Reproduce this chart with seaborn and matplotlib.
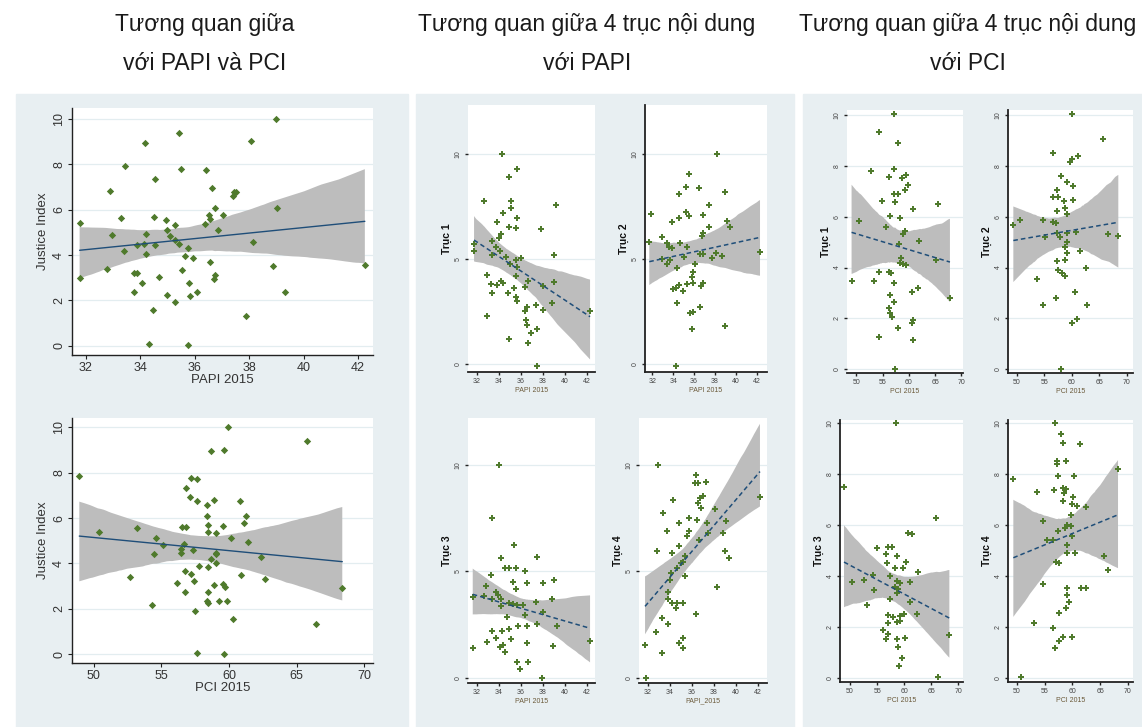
import pandas as pd
import matplotlib.pyplot as plt
import seaborn as sns
from matplotlib.patches import Rectangle

# ---- left panel: Justice Index vs PAPI / PCI ----
papi = [31.77, 31.77, 32.87, 32.77, 32.97, 33.30, 33.45, 33.40, 33.78, 33.88,
        33.78, 33.88, 34.07, 34.12, 34.21, 34.21, 34.16, 34.32, 34.45, 34.50,
        34.55, 34.55, 34.70, 34.93, 34.98, 34.98, 35.08, 35.26, 35.26, 35.26,
        35.41, 35.41, 35.50, 35.54, 35.65, 35.74, 35.74, 35.79, 35.84, 35.93,
        36.08, 36.36, 36.41, 36.51, 36.55, 36.55, 36.64, 36.69, 36.74, 36.74,
        36.84, 37.04, 37.40, 37.45, 37.50, 37.89, 38.08, 38.13, 38.88, 38.97,
        39.02, 39.30, 42.25]
justice_papi = [5.40, 3.00, 6.82, 3.40, 4.88, 5.63, 7.91, 4.19, 3.19, 3.22,
                2.37, 4.43, 2.76, 4.49, 4.94, 4.03, 8.94, 0.07, 1.56, 5.69,
                7.34, 4.43, 3.04, 5.56, 5.12, 2.25, 4.82, 1.91, 5.34, 4.65,
                9.40, 4.49, 7.79, 3.34, 3.96, 4.31, 0.01, 2.76, 2.19, 3.85,
                2.37, 5.38, 7.74, 5.79, 5.60, 3.68, 6.94, 2.94, 3.10, 6.07,
                5.12, 5.79, 6.60, 6.78, 6.78, 1.32, 9.04, 4.59, 3.50, 10.0,
                6.07, 2.37, 3.56]

pci = [48.94, 50.39, 52.71, 53.18, 54.33, 54.43, 54.63, 55.10, 56.16, 56.45,
       56.45, 56.55, 56.65, 56.75, 56.75, 56.85, 56.85, 57.12, 57.22, 57.22,
       57.32, 57.41, 57.51, 57.61, 57.61, 57.61, 57.81, 58.37, 58.37, 58.37,
       58.47, 58.47, 58.47, 58.47, 58.47, 58.67, 58.67, 58.87, 58.87, 59.06,
       59.06, 59.06, 59.06, 59.24, 59.53, 59.53, 59.63, 59.63, 59.73, 59.83,
       59.93, 60.12, 60.32, 60.79, 60.89, 61.08, 61.28, 61.38, 62.34, 62.64,
       65.79, 66.45, 68.37]
justice_pci = [7.83, 5.38, 3.39, 5.56, 2.18, 4.41, 5.10, 4.81, 3.15, 4.47,
               4.65, 5.60, 4.87, 3.67, 2.76, 7.32, 5.60, 6.92, 7.77, 3.55,
               4.59, 3.21, 1.89, 6.76, 0.07, 7.71, 3.90, 6.58, 6.07, 2.36,
               5.70, 5.38, 2.76, 3.84, 2.24, 8.93, 4.18, 6.80, 3.04, 5.32,
               4.47, 4.41, 4.02, 2.36, 5.66, 3.09, 8.99, 0.01, 2.98, 2.36,
               10.0, 5.10, 1.55, 6.74, 3.50, 5.78, 6.07, 4.93, 4.30, 3.33,
               9.37, 1.33, 2.93]

# ---- middle panel: 4 axes vs PAPI ----
t1_papi_x = [34.27, 35.70, 34.94, 32.67, 35.12, 39.21, 35.12, 34.36, 33.82, 35.70,
             34.97, 35.58, 37.85, 34.18, 34.06, 33.36, 31.76, 31.76, 33.76, 34.12,
             33.36, 34.67, 35.58, 36.03, 39.03, 35.03, 35.70, 35.58, 36.70, 32.91,
             33.30, 33.88, 34.18, 34.42, 33.36, 34.82, 36.39, 38.00, 39.03, 35.39,
             35.58, 35.70, 38.82, 37.39, 36.55, 38.06, 36.39, 42.30, 32.97, 36.48,
             36.55, 37.52, 36.91, 34.97, 36.70, 37.45]
t1_papi_y = [10.0, 9.29, 8.89, 7.76, 7.76, 7.57, 7.41, 7.21, 6.78, 6.94,
             6.54, 6.49, 6.43, 6.19, 5.98, 5.87, 5.71, 5.38, 5.56, 5.40,
             5.19, 5.08, 4.95, 5.03, 5.19, 4.76, 4.63, 4.19, 3.97, 4.24,
             3.81, 3.76, 3.97, 3.84, 3.40, 3.40, 3.68, 3.71, 3.92, 3.60,
             3.21, 3.02, 2.92, 2.81, 2.73, 2.57, 2.54, 2.52, 2.30, 2.10,
             1.86, 1.65, 1.49, 1.17, 0.98, -0.10]

t2_papi_x = [38.17, 35.55, 35.23, 36.50, 34.59, 38.96, 37.46, 31.84, 35.23, 35.55,
             36.89, 34.59, 33.85, 39.12, 39.44, 37.46, 36.89, 36.73, 31.71, 32.89,
             33.37, 33.63, 33.85, 34.65, 35.36, 36.57, 36.82, 38.10, 38.65, 37.69,
             35.04, 42.32, 32.95, 33.69, 33.44, 34.33, 36.09, 35.93, 35.77, 35.29,
             34.59, 35.93, 36.82, 36.63, 33.95, 34.24, 34.97, 34.33, 35.61, 35.86,
             36.57, 38.99, 35.77, 34.27]
t2_papi_y = [10.0, 9.05, 8.44, 8.37, 8.10, 8.21, 7.57, 7.14, 7.25, 7.05,
             7.10, 6.94, 6.75, 6.81, 6.54, 6.54, 6.22, 6.11, 5.83, 6.06,
             5.75, 5.59, 5.51, 5.78, 5.59, 5.24, 5.24, 5.27, 5.16, 5.06,
             5.11, 5.35, 4.98, 4.95, 4.76, 4.59, 4.76, 4.40, 4.16, 3.81,
             3.76, 3.84, 3.87, 3.71, 3.57, 3.60, 3.49, 2.89, 2.44, 2.46,
             2.73, 1.83, 1.67, -0.10]

t3_papi_x = [34.06, 33.36, 35.39, 34.18, 37.45, 34.58, 34.97, 35.58, 36.39, 33.27,
             32.85, 35.33, 36.55, 38.06, 39.03, 35.58, 33.76, 33.97, 31.64, 32.67,
             33.36, 34.18, 34.97, 35.33, 35.70, 36.24, 37.39, 38.82, 34.18, 36.39,
             38.00, 34.79, 33.36, 34.27, 34.97, 35.76, 36.55, 37.45, 39.27, 32.97,
             33.76, 34.12, 34.36, 35.12, 34.58, 36.61, 38.97, 42.30, 31.70, 35.70,
             36.70, 35.94, 37.91]
t3_papi_y = [10.0, 7.49, 6.24, 5.61, 5.66, 5.14, 5.14, 5.14, 5.03, 4.83,
             4.33, 4.51, 4.47, 4.44, 4.59, 4.17, 4.01, 3.89, 3.78, 3.84,
             3.70, 3.68, 3.53, 3.46, 3.42, 3.42, 3.57, 3.70, 3.37, 2.95,
             3.07, 2.84, 2.21, 2.21, 2.27, 2.45, 2.43, 2.52, 2.43, 1.66,
             1.88, 1.46, 1.54, 1.80, 1.22, 1.65, 1.50, 1.74, 1.38, 0.75,
             0.75, 0.41, 0.0]

t4_papi_x = [32.97, 36.39, 36.30, 36.61, 37.30, 37.00, 36.76, 36.61, 36.82, 34.33,
             42.21, 33.42, 35.79, 34.88, 36.48, 37.39, 38.12, 39.12, 33.73, 35.79,
             35.61, 38.88, 37.52, 36.70, 34.88, 32.88, 34.18, 35.39, 35.24, 39.03,
             39.42, 35.00, 34.64, 34.12, 34.03, 35.39, 38.30, 33.82, 33.88, 34.18,
             34.64, 35.24, 34.58, 36.39, 33.33, 33.82, 32.73, 35.24, 34.88, 35.18,
             31.76, 33.33, 31.82]
t4_papi_y = [10.0, 9.53, 9.17, 9.17, 9.22, 8.56, 8.43, 8.20, 7.96, 8.35,
             8.51, 7.73, 7.49, 7.29, 7.41, 7.29, 7.92, 7.38, 6.90, 6.90,
             6.66, 6.79, 6.79, 6.47, 6.19, 5.97, 5.85, 5.72, 5.45, 5.97,
             5.61, 5.38, 5.14, 4.94, 4.59, 4.78, 4.28, 4.04, 3.68, 3.50,
             3.53, 3.53, 3.26, 2.99, 2.79, 2.52, 2.16, 1.88, 1.61, 1.38,
             1.54, 1.14, 0.0]

# ---- right panel: 4 axes vs PCI ----
t1_pci_x = [57.19, 54.25, 58.00, 52.69, 57.19, 56.25, 58.63, 59.50, 59.88, 59.25,
            57.19, 58.00, 54.88, 57.38, 60.81, 65.63, 56.38, 58.25, 50.50, 55.63,
            59.25, 58.88, 58.13, 62.00, 58.44, 58.25, 58.88, 59.50, 65.13, 54.25,
            56.13, 56.56, 49.06, 53.25, 57.19, 60.50, 61.75, 56.38, 57.19, 67.81,
            56.25, 56.38, 56.75, 60.75, 60.63, 58.00, 54.38, 60.75, 57.38]
t1_pci_y = [10.03, 9.32, 8.91, 7.80, 7.86, 7.55, 7.51, 7.64, 7.25, 7.05,
            6.89, 6.89, 6.63, 6.57, 6.29, 6.50, 6.04, 5.96, 5.83, 5.61,
            5.45, 5.32, 4.93, 5.06, 4.36, 4.19, 4.14, 4.10, 4.30, 3.84,
            3.84, 3.77, 3.49, 3.49, 3.41, 3.05, 3.18, 2.92, 2.66, 2.79,
            2.40, 2.20, 2.04, 1.94, 1.81, 1.64, 1.28, 1.13, 0.0]

t2_pci_x = [60.00, 65.76, 56.67, 61.21, 60.00, 59.70, 58.06, 59.09, 57.27, 57.58,
            56.55, 60.30, 58.61, 60.18, 58.79, 57.27, 59.09, 54.73, 49.39, 50.61,
            56.67, 57.15, 57.39, 57.88, 55.15, 59.09, 60.79, 66.67, 68.48, 59.09,
            58.79, 59.09, 61.52, 57.27, 58.79, 62.61, 57.58, 58.18, 58.79, 53.76,
            60.61, 57.15, 54.73, 62.73, 60.00, 61.03, 58.06]
t2_pci_y = [10.03, 9.06, 8.52, 8.40, 8.27, 8.17, 7.60, 7.38, 7.05, 6.79,
            6.79, 7.21, 6.62, 6.66, 6.33, 6.24, 6.11, 5.87, 5.67, 5.87,
            5.81, 5.74, 5.37, 5.22, 5.22, 5.35, 5.41, 5.32, 5.24, 4.99,
            4.82, 4.56, 4.67, 4.27, 4.30, 3.97, 3.91, 3.80, 3.67, 3.54,
            3.03, 2.79, 2.53, 2.53, 1.83, 1.97, 0.0]

t3_pci_x = [58.49, 48.89, 65.82, 60.77, 61.38, 54.92, 57.08, 57.69, 56.65, 58.74,
            60.34, 56.77, 58.31, 59.85, 62.62, 57.38, 54.31, 52.58, 50.31, 58.62,
            59.23, 61.08, 54.43, 58.31, 58.92, 58.62, 57.38, 61.08, 53.20, 62.31,
            57.08, 58.00, 59.23, 59.97, 57.08, 58.62, 59.23, 56.15, 57.08, 56.65,
            58.62, 60.15, 58.92, 68.34, 59.54, 59.11, 66.31]
t3_pci_y = [10.03, 7.48, 6.26, 5.70, 5.65, 5.11, 5.15, 5.15, 4.86, 4.78,
            4.56, 4.52, 4.32, 4.30, 4.17, 4.00, 4.04, 3.84, 3.75, 3.80,
            3.74, 3.77, 3.45, 3.58, 3.47, 3.34, 3.08, 2.99, 2.86, 2.49,
            2.46, 2.40, 2.42, 2.50, 2.16, 2.20, 2.24, 1.87, 1.72, 1.51,
            1.51, 1.55, 1.19, 1.68, 0.76, 0.46, 0.01]

t4_pci_x = [56.87, 57.88, 58.36, 61.46, 57.28, 57.16, 58.84, 49.40, 57.46, 60.27,
            68.21, 53.58, 56.69, 58.36, 58.84, 58.48, 60.03, 58.36, 59.85, 60.75,
            62.42, 59.67, 54.78, 59.00, 58.66, 57.46, 59.67, 55.37, 56.57, 59.85,
            59.00, 59.10, 60.45, 65.64, 57.04, 57.64, 66.42, 54.66, 59.00, 61.64,
            62.54, 59.00, 59.43, 58.78, 57.64, 53.16, 56.57, 57.64, 58.36, 59.85,
            56.87, 50.72]
t4_pci_y = [10.03, 9.57, 9.21, 9.17, 8.53, 8.39, 8.53, 7.80, 7.93, 7.93,
            8.19, 7.31, 7.38, 7.44, 7.40, 7.25, 7.12, 6.96, 6.83, 6.75,
            6.70, 6.40, 6.17, 6.00, 5.87, 5.78, 5.96, 5.41, 5.41, 5.57,
            5.22, 4.91, 4.91, 4.78, 4.53, 4.49, 4.23, 3.67, 3.51, 3.51,
            3.54, 3.25, 2.99, 2.75, 2.53, 2.14, 1.94, 1.45, 1.61, 1.59,
            1.15, 0.04]

titles = [["Tương quan giữa", "với PAPI và PCI"],
          ["Tương quan giữa 4 trục nội dung", "với PAPI"],
          ["Tương quan giữa 4 trục nội dung", "với PCI"]]

GREEN = "#4f7a2c"
NAVY = "#1f4e79"
BAND = "#bdbdbd"
PANEL = "#e8eff2"

sns.set_theme(style="white")
plt.rcParams["font.family"] = ["Liberation Sans", "DejaVu Sans"]

W, H = 1142, 727
fig = plt.figure(figsize=(W / 100, H / 100), dpi=100)
fig.patch.set_facecolor("white")


def px(x0, y0, x1, y1):
    # pixel box (from top-left) -> figure fraction
    return [x0 / W, 1 - y1 / H, (x1 - x0) / W, (y1 - y0) / H]


for x0, x1 in [(16, 408), (416, 794), (803, 1142)]:
    fig.add_artist(Rectangle((x0 / W, 0), (x1 - x0) / W, 1 - 94 / H,
                             transform=fig.transFigure, color=PANEL, zorder=-1))

for (cx, lines) in zip([205, 587, 968], titles):
    for ty, line in zip([25, 63], lines):
        fig.text(cx / W, 1 - ty / H, line, ha="center", va="center",
                 fontsize=16.5, color="#1a1a1a")


def fit(ax, x, y, dashed, marker, size):
    df = pd.DataFrame({"x": x, "y": y})
    sns.regplot(data=df, x="x", y="y", ax=ax, scatter=False, ci=95, seed=3,
                color=NAVY,
                line_kws={"lw": 1.1 if dashed else 1.0,
                          "ls": (0, (3, 2)) if dashed else "-", "zorder": 4})
    for c in ax.collections:
        c.set_facecolor(BAND)
        c.set_alpha(1)
        c.set_edgecolor("none")
        c.set_zorder(2)
    sns.scatterplot(data=df, x="x", y="y", ax=ax, color=GREEN, marker=marker,
                    s=size, linewidth=0, zorder=3)
    ax.set_facecolor("white")
    for sp in ["top", "right"]:
        ax.spines[sp].set_visible(False)


# ---- left panel ----
left = [(px(72, 108, 373, 355), papi, justice_papi, (31.49, 42.55), (-0.41, 10.49),
         [32, 34, 36, 38, 40, 42], "PAPI 2015"),
        (px(72, 418, 373, 663), pci, justice_pci, (48.4, 70.64), (-0.38, 10.4),
         [50, 55, 60, 65, 70], "PCI 2015")]
for box, x, y, xl, yl, xt, xlab in left:
    ax = fig.add_axes(box)
    fit(ax, x, y, False, "D", 14)
    ax.set_xlim(*xl)
    ax.set_ylim(*yl)
    ax.set_xticks(xt)
    ax.set_yticks([0, 2, 4, 6, 8, 10])
    ax.grid(axis="y", color="#e3edf0", lw=0.9)
    ax.set_axisbelow(True)
    for sp in ["left", "bottom"]:
        ax.spines[sp].set_color("#222222")
        ax.spines[sp].set_linewidth(1.0)
    ax.tick_params(axis="both", length=3, width=0.8, color="#222222",
                   labelsize=9, labelcolor="#333333", pad=2, bottom=True, left=True)
    for t in ax.get_yticklabels():
        t.set_rotation(90)
        t.set_va("center")
    ax.set_xlabel(xlab, fontsize=9.5, color="#333333", labelpad=0)
    ax.set_ylabel("Justice Index", fontsize=9.5, color="#333333", labelpad=3)

# ---- small panels ----
small = [
    (px(468, 105, 595, 372), t1_papi_x, t1_papi_y, (31.21, 42.75), (-0.38, 12.33), "Trục 1", "PAPI 2015", False),
    (px(645, 105, 767, 372), t2_papi_x, t2_papi_y, (31.3, 42.99), (-0.38, 12.33), "Trục 2", "PAPI 2015", True),
    (px(468, 418, 595, 683), t3_papi_x, t3_papi_y, (31.21, 42.75), (-0.25, 12.21), "Trục 3", "PAPI 2015", False),
    (px(639, 418, 767, 683), t4_papi_x, t4_papi_y, (31.21, 42.85), (-0.25, 12.21), "Trục 4", "PAPI_2015", False),
    (px(847, 110, 963, 373), t1_pci_x, t1_pci_y, (48.19, 70.3), (-0.15, 10.2), "Trục 1", "PCI 2015", False),
    (px(1008, 110, 1133, 373), t2_pci_x, t2_pci_y, (48.42, 71.15), (-0.15, 10.2), "Trục 2", "PCI 2015", True),
    (px(840, 420, 963, 682), t3_pci_x, t3_pci_y, (48.15, 70.86), (-0.17, 10.13), "Trục 3", "PCI 2015", True),
    (px(1008, 420, 1133, 682), t4_pci_x, t4_pci_y, (48.44, 70.9), (-0.17, 10.13), "Trục 4", "PCI 2015", True),
]
for box, x, y, xl, yl, ylab, xlab, spine in small:
    ax = fig.add_axes(box)
    fit(ax, x, y, True, "P", 24)
    ax.set_xlim(*xl)
    ax.set_ylim(*yl)
    if "PAPI" in xlab:
        ax.set_xticks([32, 34, 36, 38, 40, 42])
        ax.set_yticks([0, 5, 10])
    else:
        ax.set_xticks([50, 55, 60, 65, 70])
        ax.set_yticks([0, 2, 4, 6, 8, 10])
    ax.grid(axis="y", color="#e3edf0", lw=0.9)
    ax.set_axisbelow(True)
    ax.spines["bottom"].set_color("#222222")
    ax.spines["bottom"].set_linewidth(1.3)
    ax.spines["left"].set_visible(spine)
    ax.spines["left"].set_color("#222222")
    ax.spines["left"].set_linewidth(1.3)
    ax.tick_params(axis="both", length=2.5, width=1, color="#222222",
                   labelsize=5, labelcolor="#444444", pad=2, bottom=True, left=True)
    for t in ax.get_yticklabels():
        t.set_rotation(90)
        t.set_va("center")
    ax.set_xlabel(xlab, fontsize=5, color="#6b5a3a", labelpad=1)
    ax.set_ylabel(ylab, fontsize=7.5, fontweight="bold", color="#111111", labelpad=2)

fig.savefig("out.png", dpi=100, facecolor="white")
